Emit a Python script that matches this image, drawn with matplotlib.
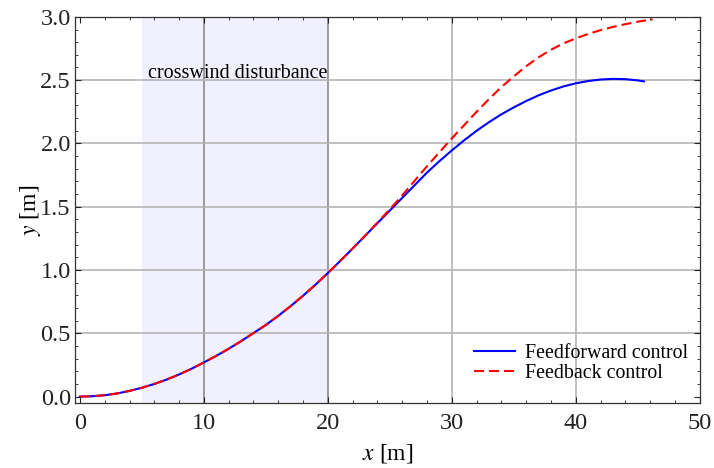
import numpy as np
import matplotlib
matplotlib.use("Agg")
from matplotlib import pyplot as plt
from matplotlib.ticker import MultipleLocator, FormatStrFormatter

# data
x_ff = [0, 1, 2, 3, 4, 5, 6, 7, 8, 9, 10, 11, 12, 13, 14, 15, 16, 17, 18, 19, 20,
        21, 22, 23, 24, 25, 26, 27, 28, 29, 30, 31, 32, 33, 34, 35, 36, 37, 38, 39,
        40, 41, 42, 43, 44, 45, 45.5]
y_ff = [0, 0.003, 0.011, 0.025, 0.045, 0.07, 0.1, 0.135, 0.175, 0.22, 0.27, 0.322,
        0.378, 0.438, 0.502, 0.566, 0.638, 0.715, 0.797, 0.884, 0.976,
        1.072, 1.17, 1.27, 1.37, 1.47, 1.57, 1.67, 1.77, 1.86, 1.945, 2.025, 2.10,
        2.168, 2.23, 2.285, 2.335, 2.38, 2.418, 2.45, 2.475, 2.493, 2.505, 2.51, 2.508,
        2.498, 2.49]

x_fb = [0, 1, 2, 3, 4, 5, 6, 7, 8, 9, 10, 11, 12, 13, 14, 15, 16, 17, 18, 19, 20,
        21, 22, 23, 24, 25, 26, 27, 28, 29, 30, 31, 32, 33, 34, 35, 36, 37, 38, 39,
        40, 41, 42, 43, 44, 45, 46.2]
y_fb = [0, 0.003, 0.011, 0.025, 0.045, 0.07, 0.1, 0.135, 0.175, 0.22, 0.27, 0.322,
        0.378, 0.438, 0.502, 0.566, 0.638, 0.715, 0.797, 0.884, 0.976,
        1.072, 1.17, 1.27, 1.375, 1.48, 1.59, 1.705, 1.82, 1.93, 2.04, 2.145, 2.25,
        2.35, 2.445, 2.53, 2.61, 2.68, 2.74, 2.79, 2.83, 2.865, 2.895, 2.92,
        2.942, 2.962, 2.98]

disturbance = (5, 20)

plt.rcParams['font.family'] = ['Liberation Serif', 'DejaVu Serif']
plt.rcParams['mathtext.fontset'] = 'stix'

fig = plt.figure(figsize=(7.14, 4.68), dpi=100)
ax = fig.add_axes([0.105, 0.139, 0.875, 0.825])

ax.axvspan(disturbance[0], disturbance[1], color='#f0f0fe', lw=0, zorder=0)

# grid
for gx in [10, 20]:
    ax.axvline(gx, color='#8a8a8a', lw=1.2, zorder=1)
for gx in [30, 40]:
    ax.axvline(gx, color='#b4b4b4', lw=1.2, zorder=1)
for gy in [0.5, 1.0, 1.5, 2.0, 2.5]:
    ax.axhline(gy, color='#b4b4b4', lw=1.2, zorder=1)

ax.plot(x_ff, y_ff, color='#0000ff', lw=1.5, label='Feedforward control', zorder=3)
ax.plot(x_fb, y_fb, color='#ff0000', lw=1.5, ls=(0, (4.8, 2.4)), label='Feedback control', zorder=4)

ax.text(5.5, 2.52, 'crosswind disturbance', fontsize=14.5, ha='left', va='baseline', zorder=5)

ax.set_xlim(-0.4, 50)
ax.set_ylim(-0.05, 3.0)
ax.xaxis.set_major_locator(MultipleLocator(10))
ax.xaxis.set_minor_locator(MultipleLocator(2))
ax.yaxis.set_major_locator(MultipleLocator(0.5))
ax.yaxis.set_minor_locator(MultipleLocator(0.1))
ax.yaxis.set_major_formatter(FormatStrFormatter('%.1f'))
ax.tick_params(which='both', direction='in', top=True, right=True, labelsize=17.5, colors='#222222')
ax.tick_params(which='major', length=4.5, width=0.8)
ax.tick_params(which='minor', length=2.5, width=0.6)
ax.tick_params(axis='x', which='major', pad=7)
ax.tick_params(axis='y', which='major', pad=3)
for s in ax.spines.values():
    s.set_color('#333333')
    s.set_linewidth(0.9)

ax.set_xlabel(r'$x$ [m]', fontsize=17, labelpad=6)
ax.set_ylabel(r'$y$ [m]', fontsize=17, labelpad=-2)

ax.legend(loc='lower right', bbox_to_anchor=(0.998, 0.026), frameon=False, fontsize=14.3,
          handlelength=2.1, handletextpad=0.5, labelspacing=0.05, borderpad=0)

fig.savefig('out.png', dpi=100)
